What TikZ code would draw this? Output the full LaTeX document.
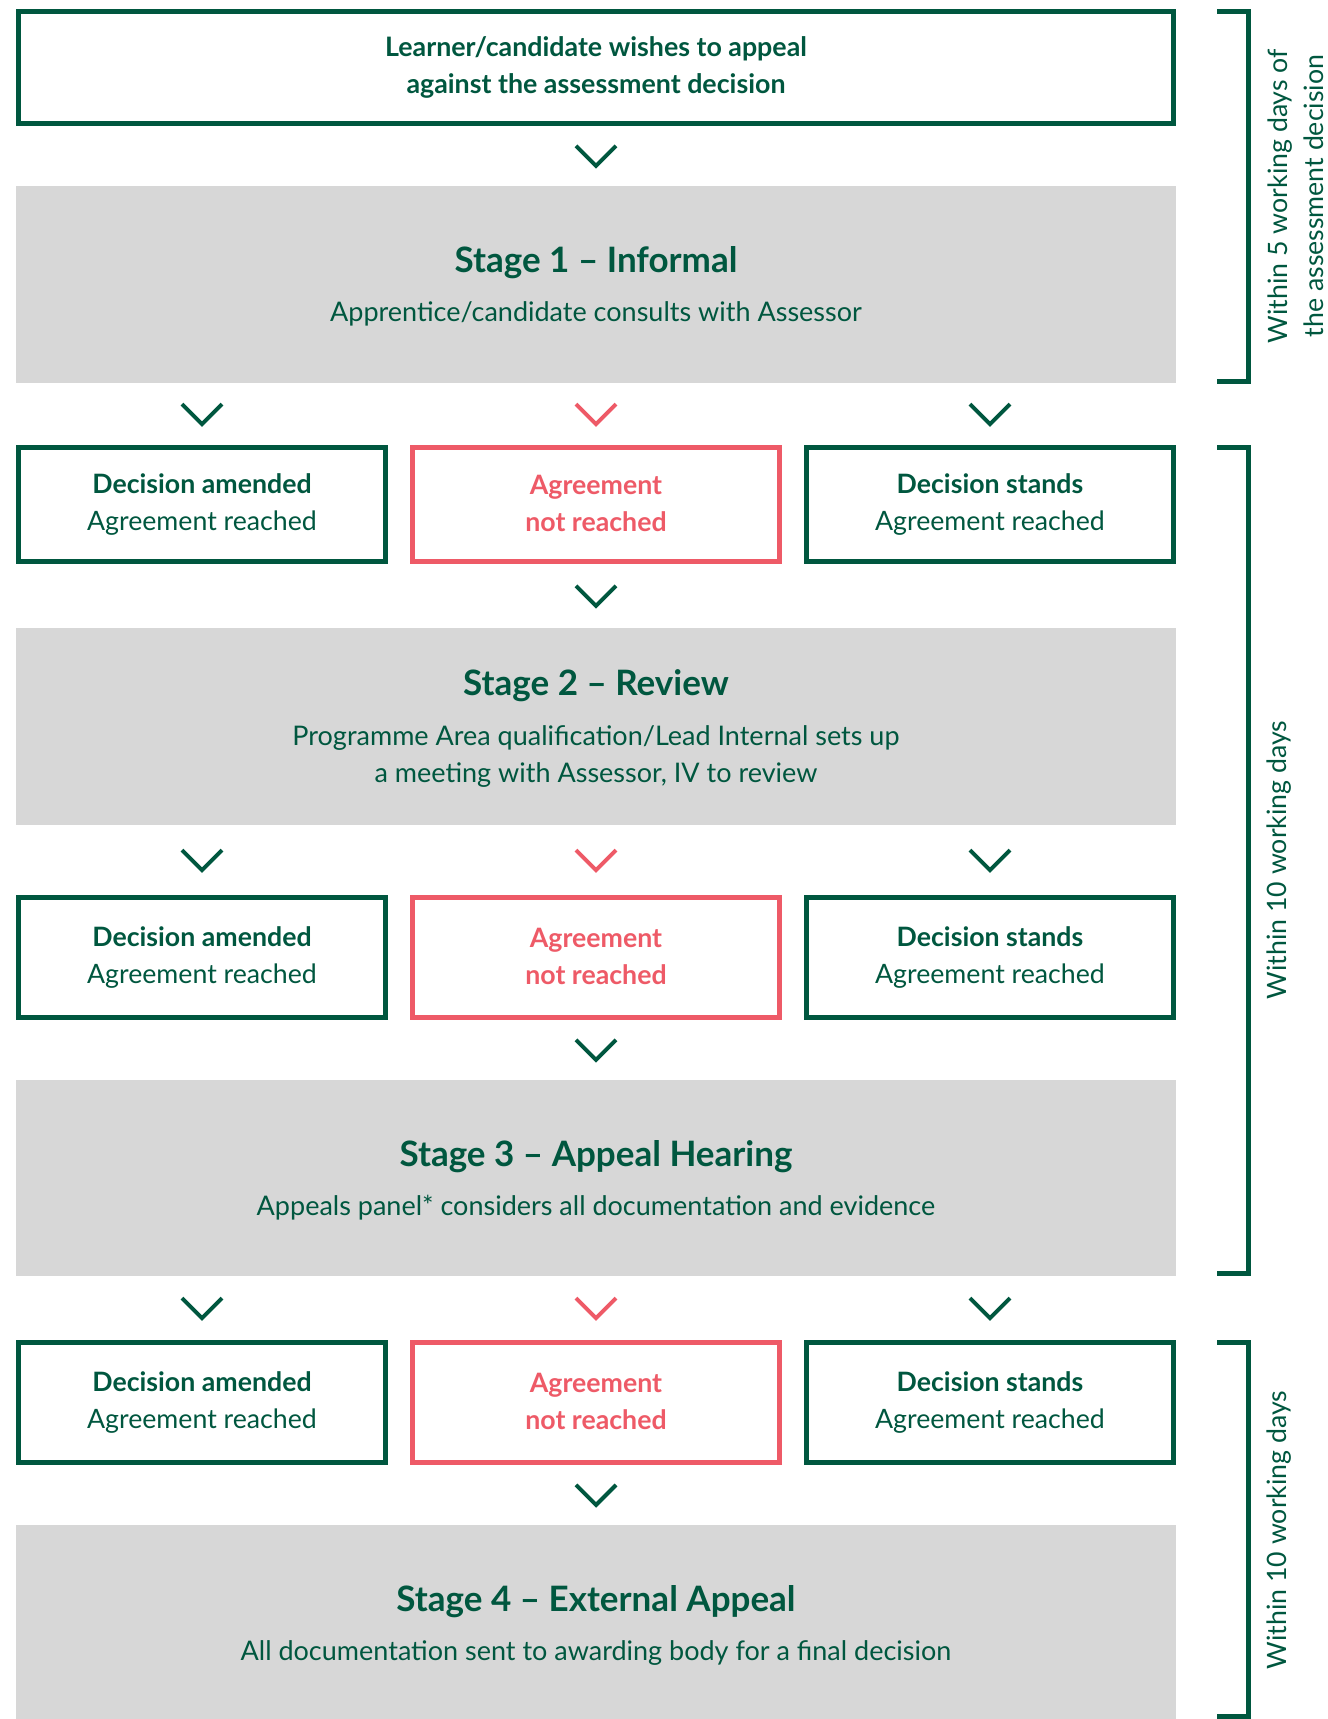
\documentclass[tikz,border=0pt]{standalone}
\usepackage{fontspec}
\setmainfont{Lato}
\usetikzlibrary{calc}
\definecolor{dgreen}{HTML}{00573F}
\definecolor{cred}{HTML}{EE5A67}
\definecolor{sgray}{HTML}{D7D7D7}
\newcommand{\uprd}[1]{\raisebox{2.2pt}{\textbf{#1}}}
\begin{document}
\begin{tikzpicture}[x=1pt,y=-1pt,
  gbox/.style={draw=dgreen, line width=5pt, fill=white, minimum width=367pt, inner sep=0pt,
    text=dgreen, align=center, font=\fontsize{26.7}{37}\selectfont},
  rbox/.style={gbox, draw=cred, text=cred},
  stage/.style={fill=sgray, minimum width=1160pt, minimum height=197pt, inner sep=0pt},
  stitle/.style={text=dgreen, font=\fontsize{35}{40}\selectfont\bfseries, inner sep=0pt},
  sbody/.style={text=dgreen, font=\fontsize{27}{37}\selectfont, align=center, inner sep=0pt},
  bracket/.style={draw=dgreen, line width=5pt},
  btext/.style={text=dgreen, rotate=90, align=center, font=\fontsize{26.7}{36}\selectfont, inner sep=0pt},
  chev/.pic={\draw[line width=4pt, pic actions] (-20,-10) -- (0,10) -- (20,-10);}
]
\useasboundingbox (0,0) rectangle (1328,1719);
\clip (0,0) rectangle (1328,1719);

% top box
\node[gbox, minimum width=1155pt, minimum height=112pt, font=\fontsize{26.8}{37}\selectfont\bfseries] (top) at (596,67.5)
  {Learner/candidate wishes to appeal\\against the assessment decision};

% stages
\node[stage] (s1) at (596,284.5) {};
\node[stitle] (s1t) at (596,263) {Stage 1 – Informal};
\node[sbody] (s1b) at (596,314) {Apprentice/candidate consults with Assessor};

\node[stage] (s2) at (596,726.5) {};
\node[stitle] (s2t) at (596,686) {Stage 2 – Review};
\node[sbody] (s2b) at (596,757) {Programme Area qualification/Lead Internal sets up\\a meeting with Assessor, IV to review};

\node[stage, minimum height=196pt] (s3) at (596,1178) {};
\node[stitle] (s3t) at (596,1157) {Stage 3 – Appeal Hearing};
\node[sbody] (s3b) at (596,1208) {Appeals panel* considers all documentation and evidence};

\node[stage] (s4) at (596,1623.5) {};
\node[stitle] (s4t) at (596,1601.5) {Stage 4 – External Appeal};
\node[sbody] (s4b) at (596,1653) {All documentation sent to awarding body for a final decision};

% row 1
\node[gbox, minimum height=114pt] (r1a) at (202,504.5) {\textbf{Decision amended}\\Agreement reached};
\node[rbox, minimum height=114pt] (r1b) at (596,504.5) {\uprd{Agreement}\\\uprd{not reached}};
\node[gbox, minimum height=114pt] (r1c) at (990,504.5) {\textbf{Decision stands}\\Agreement reached};
% row 2
\node[gbox, minimum height=120pt] (r2a) at (202,957.5) {\textbf{Decision amended}\\Agreement reached};
\node[rbox, minimum height=120pt] (r2b) at (596,957.5) {\uprd{Agreement}\\\uprd{not reached}};
\node[gbox, minimum height=120pt] (r2c) at (990,957.5) {\textbf{Decision stands}\\Agreement reached};
% row 3
\node[gbox, minimum height=120pt] (r3a) at (202,1402.5) {\textbf{Decision amended}\\Agreement reached};
\node[rbox, minimum height=120pt] (r3b) at (596,1402.5) {\uprd{Agreement}\\\uprd{not reached}};
\node[gbox, minimum height=120pt] (r3c) at (990,1402.5) {\textbf{Decision stands}\\Agreement reached};

% chevrons
\pic[draw=dgreen] at ($(top.south)!0.5!(s1.north)$) {chev};
\foreach \r/\s in {r1/s1, r2/s2, r3/s3}{
  \pic[draw=dgreen] at ($(\s.south -| \r a.north)!0.5!(\r a.north)$) {chev};
  \pic[draw=cred]   at ($(\s.south -| \r b.north)!0.5!(\r b.north)$) {chev};
  \pic[draw=dgreen] at ($(\s.south -| \r c.north)!0.5!(\r c.north)$) {chev};
}
\pic[draw=dgreen] at ($(r1b.south)!0.5!(s2.north)$) {chev};
\pic[draw=dgreen] at ($(r2b.south)!0.5!(s3.north)$) {chev};
\pic[draw=dgreen] at ($(r3b.south)!0.5!(s4.north)$) {chev};

% brackets
\coordinate (b1t) at (1217,11.5);
\coordinate (b1b) at (1217,381.5);
\draw[bracket] (b1t) -- (b1t -| 1248,0) -- (b1b -| 1248,0) -- (b1b);
\node[btext] (t1) at (1296,196) {Within 5 working days of\\the assessment decision};

\coordinate (b2t) at (1217,447.5);
\coordinate (b2b) at (1217,1273.5);
\draw[bracket] (b2t) -- (b2t -| 1248,0) -- (b2b -| 1248,0) -- (b2b);
\node[btext] (t2) at (1279,860) {Within 10 working days};

\coordinate (b3t) at (1217,1342.5);
\coordinate (b3b) at (1217,1716.5);
\draw[bracket] (b3t) -- (b3t -| 1248,0) -- (b3b -| 1248,0) -- (b3b);
\node[btext] (t3) at (1279,1530) {Within 10 working days};
\end{tikzpicture}
\end{document}
